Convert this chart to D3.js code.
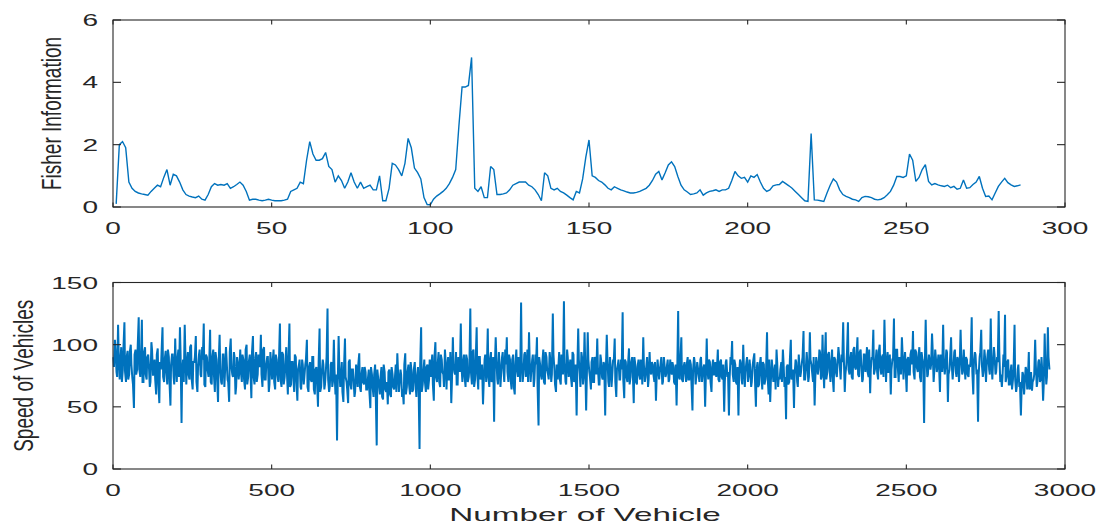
<!DOCTYPE html>
<html>
<head>
<meta charset="utf-8">
<script src="https://cdn.jsdelivr.net/npm/d3@7"></script>
<style>
  body { margin: 0; background: #fff; }
  text { font-family: "Liberation Sans", Arial, sans-serif; fill: #262626; }
</style>
</head>
<body>
<script>
// Fisher information, one value per vehicle window (x = 1 .. 286)
const fisherInfo = [
  0.1, 2.0, 2.1, 1.9, 0.8, 0.6, 0.5, 0.45, 0.42, 0.4,
  0.38, 0.5, 0.6, 0.7, 0.65, 0.95, 1.2, 0.7, 1.05, 1.0,
  0.8, 0.55, 0.4, 0.35, 0.32, 0.3, 0.35, 0.25, 0.22, 0.4,
  0.65, 0.75, 0.7, 0.72, 0.7, 0.75, 0.6, 0.65, 0.72, 0.8,
  0.7, 0.5, 0.22, 0.25, 0.25, 0.22, 0.2, 0.22, 0.25, 0.22,
  0.2, 0.2, 0.2, 0.22, 0.25, 0.5, 0.55, 0.6, 0.8, 0.75,
  1.5, 2.1, 1.7, 1.5, 1.5, 1.55, 1.75, 1.3, 1.2, 0.8,
  1.0, 0.85, 0.6, 0.8, 1.1, 0.8, 0.6, 0.8, 0.6, 0.65,
  0.7, 0.55, 0.55, 1.0, 0.2, 0.2, 0.6, 1.4, 1.35, 1.2,
  1.0, 1.4, 2.2, 1.9, 1.25, 1.1, 0.9, 0.3, 0.08, 0.07,
  0.25, 0.35, 0.42, 0.5, 0.6, 0.75, 0.95, 1.2, 2.6, 3.85,
  3.85, 3.9, 4.8, 0.6, 0.5, 0.65, 0.3, 0.3, 1.3, 1.2,
  0.4, 0.4, 0.42, 0.45, 0.55, 0.7, 0.75, 0.8, 0.8, 0.8,
  0.7, 0.65, 0.55, 0.4, 0.2, 1.1, 1.0, 0.6, 0.55, 0.6,
  0.5, 0.45, 0.38, 0.3, 0.23, 0.5, 0.45, 0.9, 1.6, 2.15,
  1.0, 0.95, 0.85, 0.8, 0.71, 0.6, 0.55, 0.65, 0.6, 0.55,
  0.52, 0.48, 0.45, 0.45, 0.47, 0.5, 0.55, 0.6, 0.7, 0.85,
  1.05, 1.14, 0.87, 1.1, 1.35, 1.45, 1.3, 0.98, 0.7, 0.55,
  0.48, 0.4, 0.42, 0.45, 0.55, 0.38, 0.45, 0.5, 0.52, 0.55,
  0.5, 0.55, 0.55, 0.6, 0.85, 1.14, 1.0, 0.92, 0.95, 0.8,
  1.0, 0.95, 1.04, 0.8, 0.6, 0.5, 0.55, 0.68, 0.71, 0.72,
  0.82, 0.75, 0.68, 0.6, 0.5, 0.4, 0.3, 0.2, 0.18, 2.36,
  0.23, 0.22, 0.2, 0.18, 0.45, 0.7, 0.9, 0.8, 0.55, 0.4,
  0.34, 0.3, 0.25, 0.23, 0.18, 0.3, 0.34, 0.33, 0.3, 0.25,
  0.23, 0.25, 0.3, 0.39, 0.5, 0.7, 0.98, 0.98, 0.95, 1.0,
  1.7, 1.5, 0.82, 0.95, 1.2, 1.36, 0.82, 0.71, 0.75, 0.71,
  0.68, 0.66, 0.7, 0.62, 0.66, 0.57, 0.6, 0.87, 0.6, 0.62,
  0.72, 0.8, 0.98, 0.6, 0.34, 0.35, 0.23, 0.45, 0.66, 0.8,
  0.92, 0.78, 0.71, 0.66, 0.68, 0.71
];

// speed of vehicles, read off in two passes:
// pass A at vehicles 1, 6, 11, ... (carries the spikes)
const speedA = [
  90, 104, 78, 116, 72, 98, 80, 118, 70, 95, 76, 100, 73, 49, 96, 80, 122, 74, 120, 70,
  98, 72, 92, 66, 102, 75, 88, 60, 97, 53, 80, 114, 70, 95, 68, 90, 51, 92, 74, 105,
  70, 96, 114, 37, 88, 116, 68, 94, 72, 100, 64, 86, 107, 62, 92, 76, 98, 117, 66, 90,
  74, 112, 68, 96, 62, 88, 54, 108, 70, 92, 66, 98, 72, 54, 105, 76, 94, 60, 90, 72,
  96, 70, 88, 64, 100, 74, 92, 57, 107, 68, 94, 76, 86, 108, 66, 98, 72, 90, 62, 94,
  72, 96, 64, 88, 70, 117, 66, 92, 74, 98, 60, 117, 68, 86, 62, 90, 55, 84, 66, 88,
  68, 84, 104, 62, 86, 70, 90, 60, 82, 50, 113, 66, 88, 64, 80, 129, 62, 84, 66, 104,
  60, 23, 107, 66, 86, 54, 105, 70, 53, 88, 64, 80, 58, 84, 66, 93, 62, 82, 68, 78,
  64, 80, 49, 76, 58, 84, 19, 72, 60, 82, 56, 78, 62, 52, 80, 58, 76, 64, 84, 93,
  62, 80, 58, 52, 93, 66, 84, 60, 78, 64, 86, 58, 82, 16, 114, 68, 88, 62, 84, 72,
  74, 92, 55, 102, 70, 94, 66, 88, 76, 96, 64, 90, 72, 53, 106, 78, 94, 68, 86, 117,
  70, 92, 66, 88, 74, 129, 68, 96, 72, 114, 64, 90, 76, 52, 88, 70, 113, 66, 94, 72,
  38, 106, 72, 94, 66, 90, 78, 96, 106, 70, 88, 64, 92, 60, 96, 74, 88, 134, 70, 92,
  74, 96, 110, 70, 88, 66, 92, 106, 35, 84, 72, 96, 68, 90, 76, 94, 70, 125, 80, 62,
  72, 94, 68, 90, 135, 70, 96, 74, 88, 66, 92, 72, 43, 113, 76, 94, 68, 110, 47, 110,
  78, 64, 90, 70, 88, 105, 68, 92, 74, 86, 43, 108, 70, 90, 66, 88, 105, 58, 84, 72,
  88, 126, 57, 86, 70, 97, 74, 90, 53, 84, 68, 88, 72, 82, 106, 70, 84, 66, 94, 76,
  84, 70, 55, 88, 72, 86, 68, 90, 74, 84, 70, 88, 76, 82, 68, 51, 127, 72, 106, 70,
  86, 70, 90, 72, 84, 47, 90, 68, 86, 74, 88, 70, 82, 50, 105, 72, 86, 62, 88, 76,
  74, 96, 70, 88, 72, 46, 86, 74, 43, 90, 103, 70, 84, 68, 43, 88, 72, 100, 66, 86,
  70, 88, 66, 84, 93, 50, 86, 68, 90, 64, 84, 72, 110, 60, 54, 88, 70, 84, 96, 66,
  72, 86, 96, 66, 40, 84, 70, 104, 74, 49, 88, 70, 92, 74, 86, 111, 72, 94, 70, 110,
  84, 70, 51, 90, 76, 96, 72, 108, 65, 110, 78, 94, 70, 96, 62, 88, 74, 98, 80, 92,
  118, 62, 84, 118, 76, 94, 72, 98, 80, 106, 74, 96, 70, 92, 78, 98, 74, 61, 90, 112,
  80, 96, 72, 100, 76, 92, 120, 70, 94, 78, 60, 88, 121, 74, 96, 70, 84, 106, 72, 94,
  62, 90, 76, 96, 111, 72, 94, 78, 98, 70, 88, 37, 120, 74, 92, 80, 109, 70, 96, 78,
  92, 62, 84, 116, 76, 96, 54, 80, 106, 72, 94, 78, 90, 70, 112, 76, 96, 72, 88, 74,
  82, 122, 60, 94, 76, 38, 90, 112, 74, 96, 70, 92, 80, 121, 72, 98, 76, 90, 127, 70,
  66, 92, 124, 74, 88, 68, 84, 72, 116, 62, 80, 66, 43, 78, 60, 82, 64, 94, 66, 63,
  72, 104, 66, 86, 70, 90, 55, 109, 68, 114, 80
];
// pass B at vehicles 3, 8, 13, ... (the dense core of the band)
const speedB = [
  82, 96, 74, 92, 86, 70, 98, 78, 90, 72, 94, 84, 68, 92, 76, 100, 80, 88, 70, 94,
  76, 90, 84, 70, 96, 80, 72, 92, 68, 86, 94, 74, 88, 78, 96, 70, 84, 92, 68, 86,
  88, 74, 92, 80, 70, 94, 84, 76, 98, 72, 86, 90, 70, 82, 96, 74, 88, 68, 92, 80,
  84, 70, 90, 76, 94, 72, 86, 80, 68, 92, 78, 88, 70, 94, 82, 74, 90, 66, 86, 78,
  78, 92, 72, 96, 68, 86, 80, 94, 74, 88, 70, 92, 82, 76, 96, 72, 84, 90, 68, 86,
  86, 70, 92, 76, 88, 72, 94, 68, 84, 78, 90, 66, 86, 74, 92, 70, 80, 88, 64, 84,
  74, 88, 66, 82, 72, 90, 64, 80, 70, 86, 62, 78, 84, 68, 90, 72, 66, 86, 70, 80,
  76, 66, 84, 70, 62, 82, 74, 64, 86, 68, 80, 72, 62, 78, 84, 66, 76, 70, 82, 64,
  72, 62, 82, 66, 76, 60, 80, 68, 74, 58, 84, 64, 70, 78, 60, 82, 66, 72, 62, 80,
  70, 76, 64, 84, 60, 78, 68, 86, 62, 80, 70, 74, 66, 84, 62, 78, 70, 82, 64, 88,
  82, 68, 90, 74, 84, 70, 92, 78, 66, 88, 80, 72, 94, 70, 84, 76, 68, 90, 78, 84,
  86, 74, 92, 70, 82, 78, 94, 66, 88, 76, 90, 72, 84, 68, 92, 80, 74, 88, 70, 90,
  80, 90, 68, 86, 76, 94, 70, 84, 78, 92, 72, 88, 66, 84, 80, 90, 70, 86, 76, 94,
  84, 70, 88, 78, 92, 72, 84, 66, 90, 76, 86, 70, 94, 80, 72, 88, 76, 92, 68, 84,
  80, 72, 92, 76, 86, 68, 90, 80, 74, 94, 70, 84, 78, 88, 66, 90, 74, 86, 72, 88,
  74, 86, 70, 90, 76, 82, 68, 88, 72, 84, 78, 90, 66, 84, 74, 86, 70, 80, 88, 72,
  80, 72, 88, 74, 84, 68, 86, 78, 90, 70, 82, 76, 88, 68, 84, 74, 90, 72, 80, 86,
  76, 86, 72, 82, 78, 90, 70, 84, 76, 88, 72, 80, 86, 70, 84, 78, 74, 88, 72, 82,
  78, 84, 72, 88, 68, 80, 86, 74, 82, 70, 90, 76, 84, 72, 80, 88, 70, 82, 76, 86,
  80, 72, 86, 74, 84, 70, 88, 78, 72, 84, 76, 88, 70, 82, 76, 86, 68, 84, 78, 90,
  74, 82, 70, 88, 72, 80, 66, 84, 76, 86, 68, 80, 74, 88, 70, 82, 76, 64, 86, 74,
  80, 70, 86, 74, 82, 68, 88, 72, 80, 76, 86, 66, 84, 78, 90, 72, 80, 86, 74, 88,
  78, 90, 72, 86, 80, 94, 74, 84, 88, 72, 92, 80, 86, 74, 90, 78, 84, 92, 72, 86,
  90, 76, 94, 80, 88, 74, 96, 82, 90, 76, 94, 84, 72, 92, 86, 78, 96, 80, 88, 76,
  86, 78, 94, 82, 90, 74, 96, 84, 78, 92, 80, 88, 74, 96, 82, 90, 76, 94, 84, 80,
  88, 76, 92, 84, 78, 96, 82, 90, 74, 94, 86, 80, 92, 76, 88, 84, 96, 78, 90, 82,
  84, 92, 78, 88, 82, 94, 76, 90, 84, 80, 96, 74, 88, 82, 92, 78, 86, 90, 76, 84,
  90, 78, 86, 92, 80, 76, 94, 84, 78, 90, 82, 96, 76, 88, 84, 92, 78, 86, 94, 76,
  74, 82, 70, 86, 68, 78, 64, 80, 72, 66, 84, 70, 62, 76, 68, 80, 72, 64, 78, 70,
  76, 84, 70, 88, 72, 80, 68, 86, 74, 90
];
const speedStep = 5;

const fisherXTicks = [0, 50, 100, 150, 200, 250, 300];
const fisherYTicks = [0, 2, 4, 6];
const speedXTicks = [0, 500, 1000, 1500, 2000, 2500, 3000];
const speedYTicks = [0, 50, 100, 150];

const width = 1099;
const height = 525;
const axisColor = '#262626';
const lineColor = '#0072bd';
// the picture is stretched sideways, so text is too
const stretch = 1.75;

// merge both passes in vehicle order
const speedData = [];
speedA.forEach((v, i) => {
  speedData.push([1 + i * speedStep, v]);
  if (i < speedB.length) speedData.push([3 + i * speedStep, speedB[i]]);
});

const svg = d3.select('body')
  .append('svg')
  .attr('width', width)
  .attr('height', height);

function drawPanel(p) {
  const x = d3.scaleLinear().domain(p.xDomain).range([p.left, p.right]);
  const y = d3.scaleLinear().domain(p.yDomain).range([p.bottom, p.top]);
  const g = svg.append('g');

  g.append('path')
    .datum(p.data)
    .attr('fill', 'none')
    .attr('stroke', lineColor)
    .attr('stroke-width', p.lineWidth)
    .attr('stroke-linejoin', 'miter')
    .attr('stroke-miterlimit', 2)
    .attr('d', d3.line().x(d => x(d[0])).y(d => y(d[1])));

  // box
  g.append('rect')
    .attr('x', p.left)
    .attr('y', p.top)
    .attr('width', p.right - p.left)
    .attr('height', p.bottom - p.top)
    .attr('fill', 'none')
    .attr('stroke', axisColor)
    .attr('stroke-width', 1.1);

  // inward ticks on all four sides
  p.xTicks.forEach((t) => {
    g.append('line').attr('x1', x(t)).attr('x2', x(t)).attr('y1', p.bottom).attr('y2', p.bottom - 4.5)
      .attr('stroke', axisColor).attr('stroke-width', 1.1);
    g.append('line').attr('x1', x(t)).attr('x2', x(t)).attr('y1', p.top).attr('y2', p.top + 4.5)
      .attr('stroke', axisColor).attr('stroke-width', 1.1);
    g.append('text')
      .attr('transform', `translate(${x(t)},${p.bottom + 27}) scale(${stretch},1)`)
      .attr('text-anchor', 'middle')
      .attr('font-size', 16)
      .text(t);
  });
  p.yTicks.forEach((t) => {
    g.append('line').attr('x1', p.left).attr('x2', p.left + 8).attr('y1', y(t)).attr('y2', y(t))
      .attr('stroke', axisColor).attr('stroke-width', 1.1);
    g.append('line').attr('x1', p.right).attr('x2', p.right - 8).attr('y1', y(t)).attr('y2', y(t))
      .attr('stroke', axisColor).attr('stroke-width', 1.1);
    g.append('text')
      .attr('transform', `translate(${p.left - 15},${y(t) + 6}) scale(${stretch},1)`)
      .attr('text-anchor', 'end')
      .attr('font-size', 16)
      .text(t);
  });

  g.append('text')
    .attr('transform', `translate(${p.yLabelX},${(p.top + p.bottom) / 2}) scale(1.5,1) rotate(-90)`)
    .attr('text-anchor', 'middle')
    .attr('font-size', 19)
    .text(p.yLabel);
}

drawPanel({
  left: 113, right: 1065, top: 20, bottom: 207,
  xDomain: [0, 300], yDomain: [0, 6],
  xTicks: fisherXTicks, yTicks: fisherYTicks,
  data: fisherInfo.map((v, i) => [i + 1, v]),
  lineWidth: 1.4,
  yLabel: 'Fisher Information', yLabelX: 61
});

drawPanel({
  left: 113, right: 1065, top: 282.5, bottom: 469,
  xDomain: [0, 3000], yDomain: [0, 150],
  xTicks: speedXTicks, yTicks: speedYTicks,
  data: speedData,
  lineWidth: 2,
  yLabel: 'Speed of Vehicles', yLabelX: 33
});

svg.append('text')
  .attr('transform', `translate(585,521) scale(${stretch},1)`)
  .attr('text-anchor', 'middle')
  .attr('font-size', 19)
  .text('Number of Vehicle');
</script>
</body>
</html>
